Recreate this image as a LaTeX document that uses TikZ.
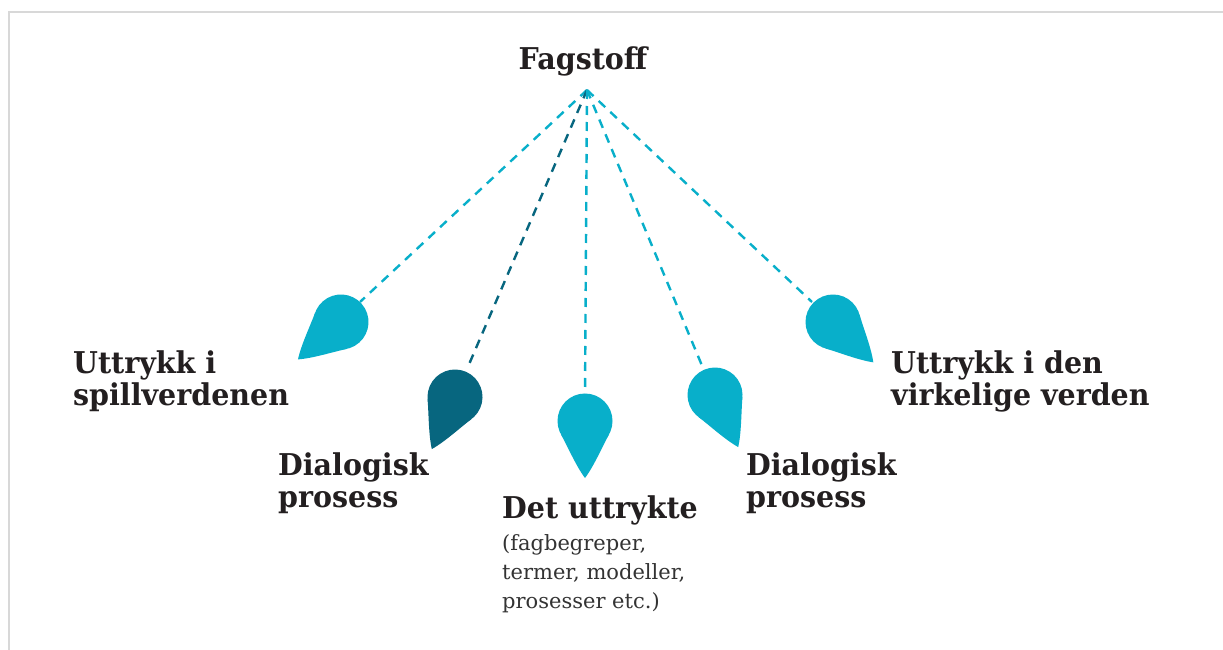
\documentclass[tikz,border=0pt]{standalone}
\usepackage{fontspec}
\setmainfont{DejaVu Serif}
\newfontfamily\lblfont{DejaVu Serif}[FakeStretch=0.95]
\definecolor{cyanA}{HTML}{08AFCA}
\definecolor{tealD}{HTML}{07667F}
\definecolor{inkT}{HTML}{231F20}
\definecolor{subT}{HTML}{333333}
\definecolor{frameG}{HTML}{D8D8D8}
\newcommand{\mydrop}[3]{%
  \begin{scope}[shift={(#1)},rotate=#2]
    \fill[#3] (0,0) circle[radius=27.5];
    \fill[#3] (57,0) .. controls (45,9) and (25.6,17.3) .. (13.3,24.1)
      -- (13.3,-24.1) .. controls (25.6,-17.3) and (45,-9) .. cycle;
  \end{scope}}
\tikzset{
  lbl/.style={inner sep=0pt, anchor=base west, align=left, text=inkT,
    font=\lblfont\bfseries\fontsize{30}{32}\selectfont},
  sub/.style={inner sep=0pt, anchor=base west, align=left, text=subT,
    font=\fontsize{21}{29}\selectfont},
  link/.style={line width=2.4pt, dash pattern=on 9pt off 7pt},
}
\begin{document}
\begin{tikzpicture}[x=1pt,y=-1pt]
\useasboundingbox (0,0) rectangle (1223,650);
\fill[white] (0,0) rectangle (1223,650);
\draw[frameG,line width=1.5pt] (9,650) -- (9,12) -- (1223,12);
% apex and drops
\coordinate (apex) at (587,90);
\coordinate (d1) at (341,322);
\coordinate (d2) at (455,397);
\coordinate (d3) at (585,421);
\coordinate (d4) at (715,395);
\coordinate (d5) at (833,322);
\coordinate (e1) at (360,302);
\coordinate (e2) at (467,369);
\coordinate (e3) at (585,394);
\coordinate (e4) at (703,368);
\coordinate (e5) at (812,302);
\draw[link,cyanA] (apex) -- (e1);
\draw[link,tealD] (apex) -- (e2);
\draw[link,cyanA] (apex) -- (e3);
\draw[link,cyanA] (apex) -- (e4);
\draw[link,cyanA] (apex) -- (e5);
\mydrop{d1}{-139}{cyanA}
\mydrop{d2}{-114}{tealD}
\mydrop{d3}{-90}{cyanA}
\mydrop{d4}{-66}{cyanA}
\mydrop{d5}{-45}{cyanA}
% labels (base anchor = baseline of last line)
\node[lbl,anchor=base] (top) at (583,70) {Fagstoff};
\node[lbl] (l1) at (73,405) {Uttrykk i\\spillverdenen};
\node[lbl] (l2) at (278,507) {Dialogisk\\prosess};
\node[lbl] (l3) at (502,518) {Det uttrykte};
\node[sub] (l3s) at (502,608) {(fagbegreper,\\termer, modeller,\\prosesser etc.)};
\node[lbl] (l4) at (746,507) {Dialogisk\\prosess};
\node[lbl] (l5) at (891,405) {Uttrykk i den\\virkelige verden};
\end{tikzpicture}
\end{document}
